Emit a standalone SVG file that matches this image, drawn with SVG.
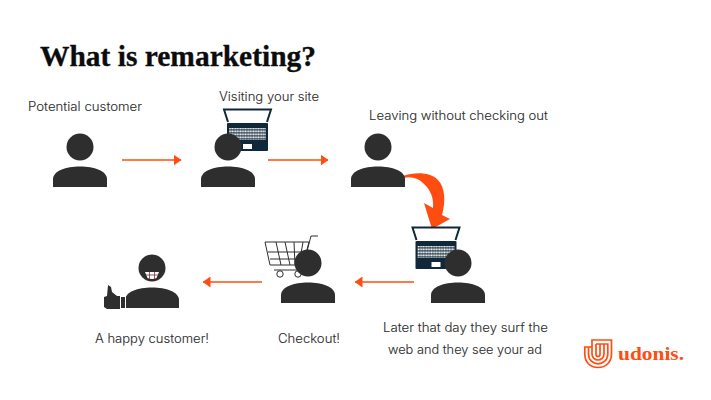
<svg xmlns="http://www.w3.org/2000/svg" width="711" height="400" viewBox="0 0 711 400">
<style>
.l{font-family:Inter,"Open Sans","Liberation Sans",sans-serif;font-size:12.5px;fill:#2b2b2b;font-weight:300;stroke:#2b2b2b;stroke-width:.1}
.c{stroke:#ff4d12;stroke-width:1.6;fill:none}
.d{fill:#2e2e2e}
.n{fill:#10293a}
.k{stroke:#2e2e2e;stroke-width:1;fill:none}
</style>
<defs>
<marker id="ah" viewBox="0 0 8 11" refX="7.5" refY="5.500" markerWidth="8" markerHeight="11" markerUnits="userSpaceOnUse" orient="auto"><path d="M0 0L8 5.500L0 11Z" fill="#ff4d12"/></marker>
<pattern id="keys" width="2.6" height="3" patternUnits="userSpaceOnUse"><rect width="2.6" height="3" fill="#10293a"/><rect x=".3" y=".4" width="2" height="2" fill="#f2f2f2"/></pattern>
<g id="person">
<circle cx="0" cy="0" r="13.5" class="d"/>
<path d="M-27 40V32C-27 24-14 19.500 0 19.500S27 24 27 32V40Z" class="d"/>
</g>
<g id="laptop">
<path d="M4.500 13L0.500 0.500H47.500L43.500 13" fill="#fff" stroke="#10293a" stroke-width="2"/>
<rect x="3.500" y="14" width="41" height="28" class="n" rx="1"/>
<rect x="5.500" y="19" width="37" height="12" fill="url(#keys)"/>
<rect x="19.500" y="35" width="9" height="5" fill="#fff"/>
</g>
</defs>
<text x="40" y="66" font-family="'Liberation Serif',serif" font-weight="700" font-size="28.500px" fill="#0c0c0c" stroke="#0c0c0c" stroke-width=".3" textLength="276" lengthAdjust="spacingAndGlyphs">What is remarketing?</text>
<g id="connectors">
<path class="c" d="M122 160H181" marker-end="url(#ah)"/>
<path class="c" d="M268 160H328" marker-end="url(#ah)"/>
<path class="c" d="M414 282H355" marker-end="url(#ah)"/>
<path class="c" d="M262 282H203" marker-end="url(#ah)"/>
<path id="curve" fill="#ff4d12" d="M403 176C415 172 430 172 438 180C445 187 446 201 442 215L450 219L432 229L424 203L433 208C434 199 431 190 423 183C418 178 410 176 404 178Z"/>
</g>
<g id="n1"><use href="#person" x="80" y="147"/><text class="l" x="28" y="111" textLength="114" lengthAdjust="spacingAndGlyphs">Potential customer</text></g>
<g id="n2"><use href="#laptop" x="223.500" y="109"/><use href="#person" x="228" y="147"/><text class="l" x="219" y="101" textLength="100" lengthAdjust="spacingAndGlyphs">Visiting your site</text></g>
<g id="n3"><use href="#person" x="378" y="147"/><text class="l" x="369" y="120" textLength="179" lengthAdjust="spacingAndGlyphs">Leaving without checking out</text></g>
<g id="n4"><use href="#laptop" x="412" y="227"/><use href="#person" x="458" y="263"/><text class="l" x="383" y="332" textLength="165" lengthAdjust="spacingAndGlyphs">Later that day they surf the</text><text class="l" x="388" y="354" textLength="154" lengthAdjust="spacingAndGlyphs">web and they see your ad</text></g>
<g id="n5">
<path class="k" d="M318 236H311L306 255M265 242H309L303 265H270ZM268 252H306M270 259H304M276 242L281 265M285 242L290 265M294 242L295 265M303 242L299 265M274 270H303"/>
<circle class="k" cx="280" cy="274" r="3.200"/><circle class="k" cx="298" cy="274" r="3.200"/>
<use href="#person" x="308" y="263"/><text class="l" x="278" y="343" textLength="62" lengthAdjust="spacingAndGlyphs">Checkout!</text></g>
<g id="n6">
<use href="#person" x="152" y="268"/>
<path d="M145 272H159L156.500 278Q152 280 147.500 278Z" fill="#fff"/><path d="M149.500 272V279M154.500 272V279M146 275H158" stroke="#8e2b3d" stroke-width=".8"/>
<path d="M104 297L107 296L108 285L111 287L112 292L117 296H120V309H107L104 307Z" class="d"/>
<rect x="120" y="296" width="6" height="13" fill="#fff"/>
<rect x="121" y="297" width="4" height="11" class="d"/>
<text class="l" x="95" y="343" textLength="114" lengthAdjust="spacingAndGlyphs">A happy customer!</text></g>
<g id="logo" fill="none" stroke="#ff4d12" stroke-width="1.700">
<path d="M592 347H584.800V354C584.800 362 590 367.500 598 367.500S611.500 362 611.500 354V340H592V347"/>
<path d="M588.500 347V354C588.500 360 593 363.800 598 363.800S607.800 360 607.800 354V344H596"/>
<path d="M592 347V354C592 357.500 595 360 598 360S604 357.500 604 354V344"/>
<path d="M596 344V354C596 356 597 356.500 598 356.500S600 356 600 354V344"/>
<text x="618" y="360" font-family="'Liberation Serif',serif" font-weight="700" font-size="19px" fill="#ff4d12" stroke="none" textLength="66" lengthAdjust="spacingAndGlyphs">udonis.</text>
</g>
</svg>
